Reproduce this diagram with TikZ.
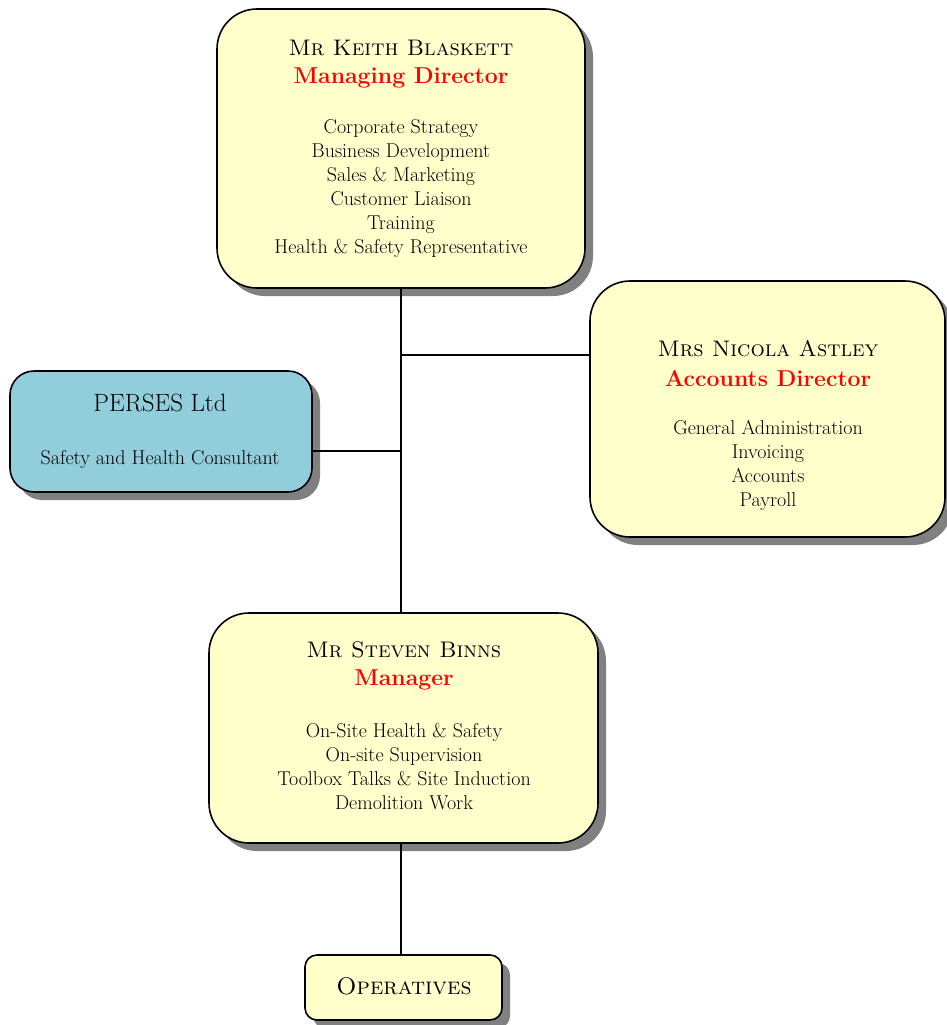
\documentclass[tikz,border=0pt]{standalone}
\usetikzlibrary{shadows}
\definecolor{boxyellow}{HTML}{FFFFCC}
\definecolor{boxblue}{HTML}{92CDDC}
\definecolor{titlered}{HTML}{FF0000}
\tikzset{
  orgbox/.style={draw=black, line width=1.6pt, rectangle, inner sep=0pt,
    drop shadow={shadow xshift=8pt, shadow yshift=-8pt, fill=black!50, opacity=1}},
  namefont/.style={font=\fontsize{22.5}{26}\selectfont, inner sep=0pt, anchor=center},
  titlefont/.style={font=\fontsize{23}{26}\selectfont\bfseries, text=titlered, inner sep=0pt},
  itemfont/.style={font=\fontsize{20}{24}\selectfont, align=center, inner sep=0pt},
  link/.style={draw=black, line width=1.6pt}
}
\begin{document}
\begin{tikzpicture}[x=1pt,y=-1pt]
\useasboundingbox (0,0) rectangle (946,1025);
% boxes
\node[orgbox, fill=boxyellow, rounded corners=40pt, minimum width=368pt, minimum height=279pt] (md) at (401,148.5) {};
\node[orgbox, fill=boxyellow, rounded corners=40pt, minimum width=355pt, minimum height=256pt] (ad) at (767.5,409) {};
\node[orgbox, fill=boxblue, rounded corners=24pt, minimum width=302pt, minimum height=121pt] (perses) at (161,431.5) {};
\node[orgbox, fill=boxyellow, rounded corners=40pt, minimum width=389pt, minimum height=230pt] (mgr) at (403.5,728) {};
\node[orgbox, fill=boxyellow, rounded corners=12pt, minimum width=197pt, minimum height=65pt] (ops) at (403.5,987.5) {};
% connectors
\coordinate (j1) at (401,355);
\coordinate (j2) at (401,451);
\draw[link] (md.south) -- (md.south |- mgr.north);
\draw[link] (j1) -- (j1 -| ad.west);
\draw[link] (j2) -- (j2 -| perses.east);
\draw[link] (mgr.south -| md.south) -- (md.south |- ops.north);
% texts: managing director
\node[namefont] (mdname) at (401,48) {\textsc{Mr Keith Blaskett}};
\node[titlefont] (mdtitle) at (401,78) {Managing Director};
\node[itemfont] (mditems) at (401,189) {Corporate Strategy\\Business Development\\Sales \& Marketing\\Customer Liaison\\Training\\Health \& Safety Representative};
% accounts director
\node[namefont] (adname) at (768,349) {\textsc{Mrs Nicola Astley}};
\node[titlefont] (adtitle) at (768,379) {Accounts Director};
\node[itemfont] (aditems) at (768,465) {General Administration\\Invoicing\\Accounts\\Payroll};
% perses
\node[namefont, font=\fontsize{25}{28}\selectfont] (pname) at (160,403) {PERSES Ltd};
\node[itemfont] (prole) at (160,460) {Safety and Health Consultant};
% manager
\node[namefont] (mgrname) at (404,650) {\textsc{Mr Steven Binns}};
\node[titlefont] (mgrtitle) at (404,680) {Manager};
\node[itemfont] (mgritems) at (404,767) {On-Site Health \& Safety\\On-site Supervision\\Toolbox Talks \& Site Induction\\Demolition Work};
% operatives
\node[namefont, font=\fontsize{24}{28}\selectfont] (opsname) at (404,986) {\textsc{Operatives}};
\end{tikzpicture}
\end{document}
